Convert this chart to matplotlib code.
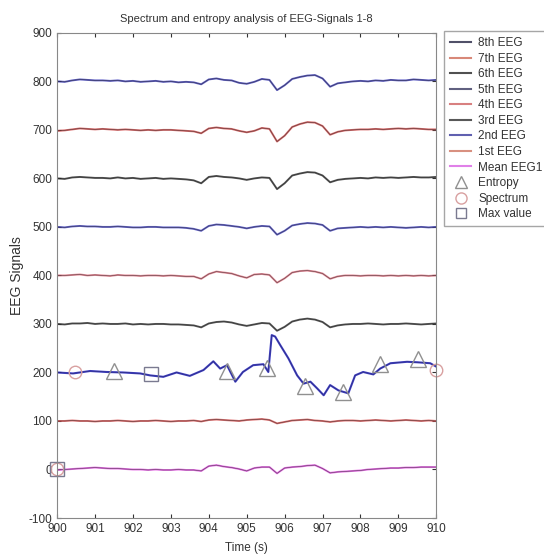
import numpy as np
import matplotlib
matplotlib.use('Agg')
import matplotlib.pyplot as plt

plt.rcParams['font.family'] = ['Liberation Sans', 'DejaVu Sans']
plt.rcParams['axes.unicode_minus'] = False

# 时间轴 (0.2 s 一个点)
t = np.arange(51) * 0.2 + 900

# 各通道相对基线的偏移
eeg8 = [0, -1, 2, 4, 3, 2, 2, 1, 2, 0, 1, -1, 0, 1, -1, 0, -2, -1,
        -2, -6, 4, 6, 3, 2, -3, -5, -1, 5, 3, -18, -8, 5, 9, 12, 13, 6, -11, -4, -2,
        0, 1, 0, 2, 1, 3, 2, 2, 4, 3, 2, 3]
eeg7 = [-2, -1, 1, 3, 2, 1, 2, 1, 0, 1, 0, -1, 0, -1, 0, 0, -1, -2,
        -3, -7, 3, 5, 3, 2, -2, -5, -2, 4, 2, -24, -12, 6, 12, 16, 15, 8, -10, -4, -1,
        0, 1, 1, 2, 1, 2, 3, 2, 3, 2, 1, 1]
eeg6 = [0, -1, 2, 3, 2, 1, 1, 0, 2, 0, 1, -1, 0, 1, -1, 0, -1, -2,
        -4, -10, 3, 5, 3, 2, 0, -3, 0, 2, 1, -22, -10, 6, 10, 13, 12, 6, -8, -3, -1,
        0, 1, 0, 2, 1, 2, 1, 2, 3, 2, 2, 3]
eeg5 = [0, -1, 1, 2, 1, 1, 0, 0, 1, 0, -1, -1, 0, 0, -1, -1, -1, -2,
        -4, -8, 2, 5, 4, 2, 0, -3, 0, 2, 1, -16, -8, 3, 6, 8, 7, 4, -8, -3, -2,
        -1, 0, -1, 0, -1, 0, -1, -2, -1, 0, -1, 0]
eeg4 = [0, 0, 1, 2, 0, 1, 0, -1, 1, 0, 0, -1, 0, 0, -1, 0, -1, -2,
        -2, -7, 3, 8, 6, 4, -1, -5, 2, 3, 1, -15, -6, 6, 9, 10, 8, 4, -7, -2, 0,
        0, -1, 0, 0, -1, 0, -1, 0, -1, 0, -1, 0]
eeg3 = [0, -1, 1, 1, 2, 0, 1, 0, 0, 1, -1, 0, -1, 0, 0, -1, -1, -2,
        -3, -7, 1, 4, 5, 3, -1, -4, -1, 2, 1, -14, -6, 5, 9, 11, 9, 4, -7, -3, -1,
        0, 0, 1, 0, -1, 0, 0, 1, 0, -1, 0, 1]
eeg1 = [0, 0, 1, 0, 0, -1, 0, 0, 1, 0, -1, 0, 0, 1, 0, -1, 0, 0,
        1, -1, 2, 3, 2, 1, 0, 2, 3, 4, 2, -5, -2, 1, 2, 3, 1, 0, -2, 0, 1,
        1, 0, 1, 2, 1, 0, 1, 2, 1, 0, 1, 0]
mean_eeg = [-1, 0, 1, 2, 3, 4, 3, 2, 2, 1, 0, 0, -1, 0, -1, -1, 0, -1,
            -1, -3, 7, 9, 6, 4, 1, -3, 3, 5, 5, -8, 3, 5, 6, 8, 9, 2, -7, -5, -4,
            -3, -2, 0, 1, 2, 3, 3, 4, 4, 5, 5, 5]

# 第2通道 (变化较大)
t2 = [900.0, 900.42, 900.87, 901.3, 901.74, 902.19, 902.45, 902.8, 903.15, 903.5,
      903.86, 904.12, 904.3, 904.48, 904.7, 904.9, 905.17, 905.44, 905.57, 905.66,
      905.75, 905.88, 906.1, 906.33, 906.5, 906.68, 906.86, 907.03, 907.2, 907.42,
      907.68, 907.86, 908.07, 908.34, 908.52, 908.79, 909.23, 909.5, 909.84, 910.0]
eeg2 = [200, 198, 203, 201, 200, 198, 194, 191, 200, 193,
        205, 223, 208, 215, 181, 201, 215, 217, 201, 277,
        274, 257, 229, 194, 177, 181, 167, 153, 174, 163,
        157, 194, 201, 196, 208, 219, 222, 221, 219, 212]

# 标记点
entropy_t = [901.5, 904.48, 905.54, 906.55, 907.55, 908.52, 909.52]
entropy_v = [203, 203, 210, 172, 160, 218, 228]
spectrum_t = [900.47, 910.0, 900.0]
spectrum_v = [200, 205, 0]
maxval_t = [902.48, 900.0]
maxval_v = [197, 0]

offsets = [800, 700, 600, 500, 400, 300, 100, 0]
signals = [eeg8, eeg7, eeg6, eeg5, eeg4, eeg3, eeg1, mean_eeg]
colors = ['#3a3ab8', '#d04848', '#303030', '#4040c0', '#e07080', '#353535', '#d85050', '#e050e0']
legend_colors = ['#505068', '#d88878', '#505050', '#606080', '#d88080', '#585858', '#6060b0', '#d89080', '#e080e8']

fig = plt.figure(figsize=(5.44, 5.57), dpi=100)
ax = fig.add_axes([0.105, 0.070, 0.697, 0.871])

for off, s, c in zip(offsets, signals, colors):
    y = np.array(s) + off
    ax.plot(t, y, color=c, lw=1.4, alpha=0.8)
    ax.plot(t, y, color='#202020', lw=0.5, alpha=0.6)

ax.plot(t2, eeg2, color='#2a2ac0', lw=1.5, alpha=0.9)
ax.plot(t2, eeg2, color='#202040', lw=0.5, alpha=0.5)

ax.plot(entropy_t, entropy_v, '^', ms=11, mfc='none', mec='#909090', mew=1.0)
ax.plot(spectrum_t, spectrum_v, 'o', ms=9, mfc='none', mec='#d8a0a0', mew=1.0, clip_on=False)
ax.plot(maxval_t, maxval_v, 's', ms=10, mfc='none', mec='#7a7a90', mew=1.0, clip_on=False)

ax.set_xlim(900, 910)
ax.set_ylim(-100, 900)
ax.set_xticks(range(900, 911))
ax.set_yticks(range(-100, 901, 100))
ax.tick_params(direction='in', top=True, right=True, labelsize=8.5, colors='#333333', length=3)
for sp in ax.spines.values():
    sp.set_color('#888888')
ax.set_title('Spectrum and entropy analysis of EEG-Signals 1-8', fontsize=8, color='#333333', pad=8)
ax.set_xlabel('Time (s)', fontsize=8.5, color='#333333', labelpad=5)
ax.set_ylabel('EEG Signals', fontsize=10, color='#333333', labelpad=3)

# 图例
leg_names = ['8th EEG', '7th EEG', '6th EEG', '5th EEG', '4th EEG', '3rd EEG', '2nd EEG', '1st EEG', 'Mean EEG1']
handles = [plt.Line2D([], [], color=c, lw=1.5) for c in legend_colors]
handles.append(plt.Line2D([], [], ls='none', marker='^', ms=8, mfc='none', mec='#909090'))
handles.append(plt.Line2D([], [], ls='none', marker='o', ms=8, mfc='none', mec='#d8a0a0'))
handles.append(plt.Line2D([], [], ls='none', marker='s', ms=7, mfc='none', mec='#7a7a90'))
labels = leg_names + ['Entropy', 'Spectrum', 'Max value']
leg = fig.legend(handles, labels, loc='upper left', bbox_to_anchor=(0.812, 0.948),
                 fontsize=8.5, frameon=True, fancybox=False, edgecolor='#909090',
                 handlelength=1.8, labelspacing=0.3, borderpad=0.5, handletextpad=0.6,
                 borderaxespad=0.2)
for txt in leg.get_texts():
    txt.set_color('#333333')

fig.savefig('out.png', dpi=100)
